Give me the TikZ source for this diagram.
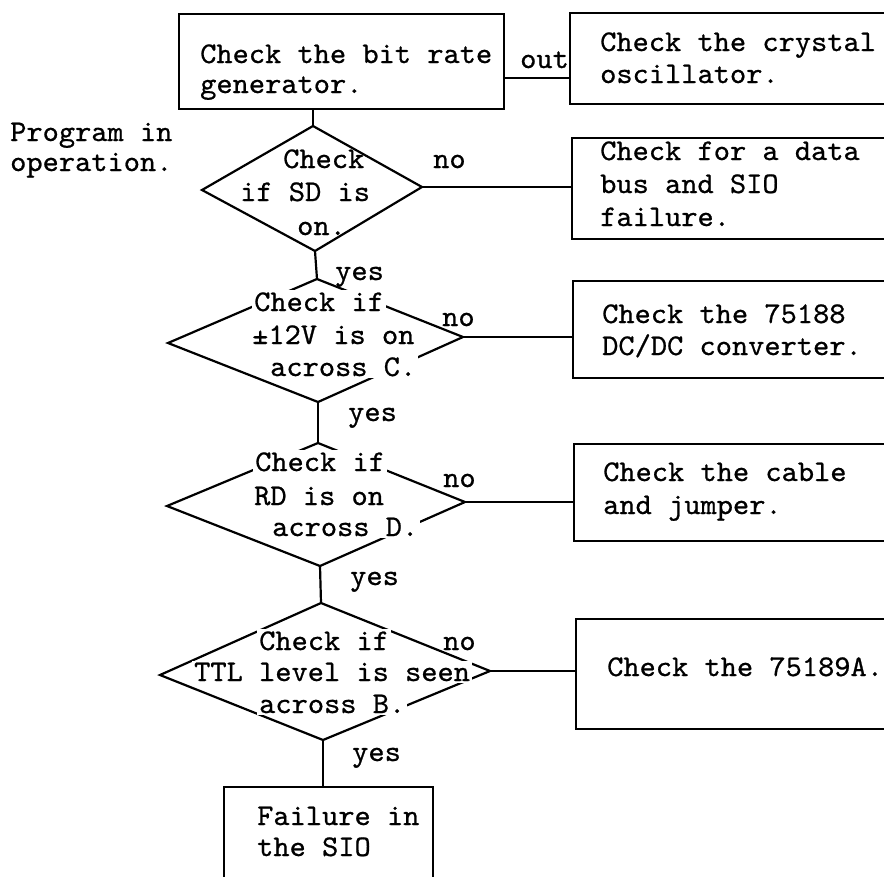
\documentclass[tikz,border=0pt]{standalone}
\usepackage{fontspec}
\newfontfamily\tw{lmmono10-regular}[Extension=.otf,FakeStretch=1.03,FakeBold=0.7]
\tikzset{
  ln/.style={line width=2.2pt},
  txt/.style={font=\tw\fontsize{30}{32}\selectfont, inner sep=0pt, anchor=base west},
  wtxt/.style={txt, fill=white, inner xsep=2pt, inner ysep=2pt},
  box/.style={draw, ln, anchor=north west, inner sep=0pt}
}
\begin{document}
\begin{tikzpicture}[x=1pt,y=-1pt]
\useasboundingbox (0,0) rectangle (884,876);
\clip (0,0) rectangle (884,876);
% boxes
\node[box, minimum width=325pt, minimum height=95pt] (b1) at (178,13) {};
\node[box, minimum width=331pt, minimum height=91pt] (b2) at (569,12) {};
\node[box, minimum width=329pt, minimum height=101pt] (b3) at (571,137) {};
\node[box, minimum width=328pt, minimum height=97pt] (b4) at (572,280) {};
\node[box, minimum width=327pt, minimum height=97pt] (b5) at (573,443) {};
\node[box, minimum width=325pt, minimum height=110pt] (b7) at (575,618) {};
\node[box, minimum width=209pt, minimum height=120pt] (b6) at (223,786) {};
% diamonds
\coordinate (d1t) at (313,126); \coordinate (d1l) at (202,190);
\coordinate (d1r) at (422,187); \coordinate (d1b) at (315,251);
\coordinate (d2t) at (317,279); \coordinate (d2l) at (168,343);
\coordinate (d2r) at (463,337); \coordinate (d2b) at (318,402);
\coordinate (d3t) at (318,443); \coordinate (d3l) at (167,506);
\coordinate (d3r) at (465,502); \coordinate (d3b) at (320,566);
\coordinate (d4t) at (321,603); \coordinate (d4l) at (160,675);
\coordinate (d4r) at (490,671); \coordinate (d4b) at (323,740);
\draw[ln, line join=miter] (d1t) -- (d1r) -- (d1b) -- (d1l) -- cycle;
\draw[ln, line join=miter] (d2t) -- (d2r) -- (d2b) -- (d2l) -- cycle;
\draw[ln, line join=miter] (d3t) -- (d3r) -- (d3b) -- (d3l) -- cycle;
\draw[ln, line join=miter] (d4t) -- (d4r) -- (d4b) -- (d4l) -- cycle;
% connectors
\coordinate (c12) at (503,78);
\draw[ln] (c12) -- (c12 -| b2.west);
\draw[ln] (d1t |- b1.south) -- (d1t);
\draw[ln] (d1b) -- (d2t);
\draw[ln] (d2b) -- (d3t);
\draw[ln] (d3b) -- (d4t);
\draw[ln] (d4b) -- (d4b |- b6.north);
\draw[ln] (d1r) -- (d1r -| b3.west);
\draw[ln] (d2r) -- (d2r -| b4.west);
\draw[ln] (d3r) -- (d3r -| b5.west);
\draw[ln] (d4r) -- (d4r -| b7.west);
% box texts
\node[txt] (t1a) at (200,63) {Check the bit rate};
\node[txt] (t1b) at (200,93) {generator.};
\node[txt] (t2a) at (600,51) {Check the crystal};
\node[txt] (t2b) at (600,83) {oscillator.};
\node[txt] (t3a) at (600,160) {Check for a data};
\node[txt] (t3b) at (600,193) {bus and SIO};
\node[txt] (t3c) at (600,226) {failure.};
\node[txt] (t4a) at (602,323) {Check the 75188};
\node[txt] (t4b) at (602,355) {DC/DC converter.};
\node[txt] (t5a) at (603,481) {Check the cable};
\node[txt] (t5b) at (603,514) {and jumper.};
\node[txt] (t7a) at (607,676) {Check the 75189A.};
\node[txt] (t6a) at (257,825) {Failure in};
\node[txt] (t6b) at (257,856) {the SIO};
% side text
\node[txt] (p1) at (10,141) {Program in};
\node[txt] (p2) at (10,171) {operation.};
% diamond texts
\node[txt] (q1a) at (283,168) {Check};
\node[txt] (q1b) at (240,201) {if SD is};
\node[txt] (q1c) at (297,235) {on.};
\node[wtxt] (q2a) at (252,311) {Check if};
\node[wtxt] (q2b) at (250,344) {±12V is on};
\node[wtxt] (q2c) at (268,376) {across C.};
\node[wtxt] (q3a) at (253,471) {Check if};
\node[wtxt] (q3b) at (252,505) {RD is on};
\node[wtxt] (q3c) at (270,536) {across D.};
\node[wtxt] (q4a) at (257,650) {Check if};
\node[wtxt] (q4b) at (192,681) {TTL level is seen};
\node[wtxt] (q4c) at (257,713) {across B.};
% labels
\node[txt] (lout) at (520,68) {out};
\node[txt] (ln1) at (433,168) {no};
\node[txt] (ln2) at (442,326) {no};
\node[txt] (ln3) at (443,487) {no};
\node[txt] (ln4) at (443,650) {no};
\node[txt] (ly1) at (335,280) {yes};
\node[txt] (ly2) at (348,421) {yes};
\node[txt] (ly3) at (350,585) {yes};
\node[txt] (ly4) at (352,761) {yes};
\end{tikzpicture}
\end{document}
